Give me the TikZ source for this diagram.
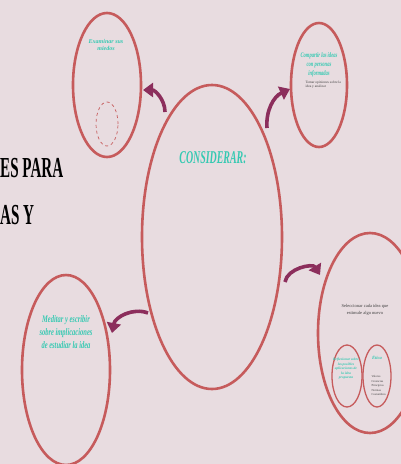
\documentclass[tikz,border=0pt]{standalone}
\usepackage{fontspec}
\usepackage{graphicx}
\setmainfont{Liberation Serif}
\usetikzlibrary{shapes.geometric,positioning,arrows.meta}

\definecolor{bgpink}{HTML}{E8DCE0}
\definecolor{ringred}{HTML}{C65B5C}
\definecolor{arrowplum}{HTML}{8C2E5C}
\definecolor{tealtext}{HTML}{35C9B2}

\begin{document}
\begin{tikzpicture}[%
x=1pt, y=-1pt,
>={Triangle[width=14pt,length=10pt]},
on grid,
ring/.style={ellipse, draw=ringred, line width=2.6pt, inner sep=0pt},
smallring/.style={ellipse, draw=ringred, line width=1.3pt, inner sep=0pt},
swoop/.style={->, draw=arrowplum, line width=3.6pt},
idea/.style={text=tealtext, font=\bfseries\itshape, align=center},
note/.style={text=black!75, align=left}
]
\fill[bgpink] (0,0) rectangle (401,464);
\useasboundingbox (0,0) rectangle (401,464);

% rings
\node[ring, minimum width=140pt, minimum height=304pt] (main) at (212,237) {};
\node[ring, minimum width=68pt, minimum height=144pt] (tl) [above left=152pt and 105pt of main] {};
\node[ring, minimum width=56pt, minimum height=124pt] (tr) [above right=152pt and 107pt of main] {};
\node[ring, minimum width=88pt, minimum height=190pt] (bl) [below left=133pt and 146pt of main] {};
\node[ring, minimum width=104pt, minimum height=200pt] (rt) [below right=96pt and 158pt of main] {};
\node[ellipse, draw=ringred, line width=0.7pt, dashed, inner sep=0pt,
      minimum width=22pt, minimum height=44pt] (tlin) [below=39pt of tl] {};
\node[smallring, minimum width=30pt, minimum height=62pt] (sa) [below left=43pt and 23pt of rt] {};
\node[smallring, minimum width=28pt, minimum height=62pt] (sb) [right=30pt of sa] {};

% title
\node[anchor=west, inner sep=0pt, font=\bfseries\fontsize{29}{29}\selectfont] (title1) at (0,168) {\scalebox{0.52}[1]{ES PARA}};
\node[anchor=west, inner sep=0pt, font=\bfseries\fontsize{29}{29}\selectfont] (title2) at (0,215) {\scalebox{0.52}[1]{AS Y}};

% texts
\node[idea, font=\bfseries\itshape\fontsize{18}{18}\selectfont] (consider) at (213,158) {\scalebox{0.55}[1]{CONSIDERAR:}};
\node[idea, font=\bfseries\itshape\fontsize{6}{7}\selectfont] (tltext) at (106,45) {Examinar sus\\miedos};
\node[idea, font=\bfseries\itshape\fontsize{7}{9}\selectfont] (trtext) at (319,65) {\scalebox{0.65}[1]{\begin{tabular}{c}Compartir las ideas\\con personas\\informadas\end{tabular}}};
\node[note, anchor=west, font=\fontsize{3.5}{4}\selectfont] (trnote) at (302,85) {Tomar opiniones sobre la\\idea y analizar};
\node[idea, font=\bfseries\itshape\fontsize{10}{13}\selectfont] (bltext) at (66,333) {\scalebox{0.65}[1]{\begin{tabular}{c}Meditar y escribir\\sobre implicaciones\\de estudiar la idea\end{tabular}}};
\node[note, align=center, font=\fontsize{4.5}{6.5}\selectfont] (rtnote) at (365,310) {Seleccionar cada idea que\\estimule algo nuevo};
\node[idea, font=\bfseries\itshape\fontsize{3.5}{4.5}\selectfont] (satext) at (346,369) {Reflexionar sobre\\las posibles\\aplicaciones de\\la idea\\propuesta};
\node[idea, font=\bfseries\itshape\fontsize{4.5}{5}\selectfont] (sbtext) at (377,358) {Ética};
\node[note, anchor=north west, font=\fontsize{3}{4.5}\selectfont] (sbnote) at (368,372) {Valores\\Creencias\\Principios\\Normas\\Costumbres};

% arrows
\coordinate (a1) at (165,112);
\coordinate (b1) at (143,90);
\coordinate (a2) at (267,128);
\coordinate (b2) at (290,89);
\coordinate (a3) at (285,282);
\coordinate (b3) at (320,275);
\coordinate (a4) at (148,313);
\coordinate (b4) at (112,333);
\draw[swoop] (a1) to[bend right=45] (b1);
\draw[swoop] (a2) to[bend left=35] (b2);
\draw[swoop] (a3) to[bend left=70] (b3);
\draw[swoop] (a4) to[bend right=50] (b4);
\end{tikzpicture}
\end{document}
